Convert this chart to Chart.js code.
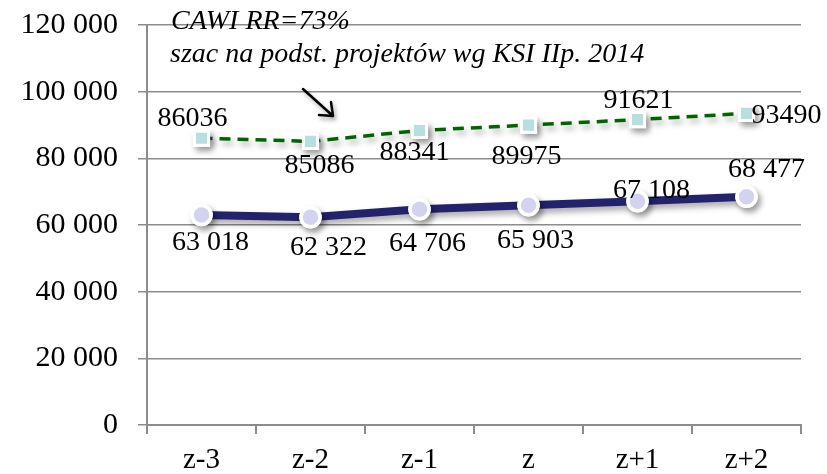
<!DOCTYPE html>
<html>
<head>
<meta charset="utf-8">
<script src="https://cdn.jsdelivr.net/npm/chart.js@4/dist/chart.umd.min.js"></script>
<style>
  html, body { margin: 0; padding: 0; background: #fff; }
  #wrap { width: 827px; height: 474px; }
</style>
</head>
<body>
<div id="wrap"><canvas id="c" width="827" height="474"></canvas></div>
<script>
// Categories (years relative to z)
const categories = ['z-3', 'z-2', 'z-1', 'z', 'z+1', 'z+2'];
// Estimate based on KSI IIp. 2014 projections
const ksiEstimate = [86036, 85086, 88341, 89975, 91621, 93490];
// CAWI scenario, RR = 73%
const cawiValues = [63018, 62322, 64706, 65903, 67108, 68477];
// Value axis ticks
const yTicks = [0, 20000, 40000, 60000, 80000, 100000, 120000];

const annotationLines = ['CAWI RR=73%', 'szac na podst. projektów wg KSI IIp. 2014'];

const SERIF = '"Liberation Serif", "Times New Roman", serif';

function fmtSpace(v) {
  return String(v).replace(/\B(?=(\d{3})+(?!\d))/g, ' ');
}

// Soft drop shadow under the lines and markers; markers are then
// repainted without shadow so their fill stays clean
const shadowPlugin = {
  id: 'shadow',
  beforeDatasetDraw(chart) {
    const ctx = chart.ctx;
    ctx.save();
    ctx.shadowColor = 'rgba(0,0,0,0.35)';
    ctx.shadowBlur = 6;
    ctx.shadowOffsetX = 3;
    ctx.shadowOffsetY = 4;
  },
  afterDatasetDraw(chart, args) {
    const ctx = chart.ctx;
    ctx.restore();
    const area = chart.chartArea;
    args.meta.data.forEach(p => p.draw(ctx, area));
  }
};

// Value-axis labels, placed well left of the tick marks
const yLabelPlugin = {
  id: 'yLabels',
  afterDraw(chart, args, opts) {
    const scale = chart.scales.y;
    const ctx = chart.ctx;
    ctx.save();
    ctx.font = opts.font;
    ctx.fillStyle = '#000';
    ctx.textAlign = 'right';
    ctx.textBaseline = 'middle';
    scale.ticks.forEach(t => {
      ctx.fillText(fmtSpace(t.value), scale.right - opts.gap, scale.getPixelForValue(t.value));
    });
    ctx.restore();
  }
};

// Value labels beside each point, with per-point nudges
const labelPlugin = {
  id: 'pointLabels',
  afterDatasetsDraw(chart, args, opts) {
    const ctx = chart.ctx;
    ctx.save();
    ctx.font = opts.font;
    ctx.fillStyle = '#000';
    ctx.textAlign = 'center';
    ctx.textBaseline = 'middle';
    chart.data.datasets.forEach((ds, di) => {
      const meta = chart.getDatasetMeta(di);
      const offs = opts.offsets[di];
      meta.data.forEach((pt, i) => {
        const txt = opts.formats[di](ds.data[i]);
        ctx.fillText(txt, pt.x + offs[i][0], pt.y + offs[i][1]);
      });
    });
    ctx.restore();
  }
};

// Italic note and arrow in the upper part of the plot
const notePlugin = {
  id: 'note',
  afterDraw(chart, args, opts) {
    const ctx = chart.ctx;
    ctx.save();
    ctx.font = 'italic 28px ' + SERIF;
    ctx.fillStyle = '#000';
    ctx.textBaseline = 'alphabetic';
    ctx.textAlign = 'left';
    ctx.fillText(annotationLines[0], 171, 29);
    ctx.fillText(annotationLines[1], 170, 62);

    ctx.shadowColor = 'rgba(0,0,0,0.35)';
    ctx.shadowBlur = 4;
    ctx.shadowOffsetX = 2;
    ctx.shadowOffsetY = 3;
    ctx.strokeStyle = '#000';
    ctx.lineWidth = 2.5;
    ctx.lineCap = 'round';
    const x1 = 303, y1 = 89, x2 = 333, y2 = 116;
    ctx.beginPath();
    ctx.moveTo(x1, y1);
    ctx.lineTo(x2, y2);
    ctx.moveTo(x2, y2);
    ctx.lineTo(x2 - 14, y2 - 1);
    ctx.moveTo(x2, y2);
    ctx.lineTo(x2 - 2, y2 - 14);
    ctx.stroke();
    ctx.restore();
  }
};

new Chart(document.getElementById('c'), {
  type: 'line',
  data: {
    labels: categories,
    datasets: [
      {
        label: 'KSI',
        data: ksiEstimate,
        borderColor: '#006400',
        borderWidth: 3.5,
        borderDash: [11, 7],
        pointStyle: 'rect',
        pointRadius: 10,
        pointBackgroundColor: '#b7dfe0',
        pointBorderColor: '#ffffff',
        pointBorderWidth: 3,
        tension: 0,
        fill: false
      },
      {
        label: 'CAWI',
        data: cawiValues,
        borderColor: '#23236d',
        borderWidth: 8,
        pointStyle: 'circle',
        pointRadius: 9.5,
        pointBackgroundColor: '#d3d3ef',
        pointBorderColor: '#ffffff',
        pointBorderWidth: 3.5,
        tension: 0,
        fill: false
      }
    ]
  },
  options: {
    responsive: false,
    animation: false,
    devicePixelRatio: 1,
    layout: { padding: { top: 25, right: 26, left: 0, bottom: 0 } },
    plugins: {
      legend: { display: false },
      tooltip: { enabled: false },
      yLabels: { font: '30px ' + SERIF, gap: 29 },
      pointLabels: {
        font: '28px ' + SERIF,
        formats: [v => String(v), v => fmtSpace(v)],
        offsets: [
          [[-9, -20], [9, 24], [-5, 22], [-2, 32], [1, -19], [40, 2]],
          [[9, 28], [18, 30], [8, 34], [7, 35], [14, -11], [20, -27]]
        ]
      }
    },
    scales: {
      x: {
        offset: true,
        afterFit(scale) { scale.height = 49; },
        grid: {
          offset: true,
          drawOnChartArea: false,
          drawTicks: true,
          tickLength: 9,
          color: '#8c8c8c',
          lineWidth: 2
        },
        border: { display: true, color: '#8c8c8c', width: 2 },
        ticks: {
          color: '#000',
          font: { family: SERIF, size: 29 },
          padding: 9,
          maxRotation: 0
        }
      },
      y: {
        min: 0,
        max: 120000,
        afterFit(scale) { scale.width = 147; },
        afterBuildTicks(scale) { scale.ticks = yTicks.map(v => ({ value: v })); },
        grid: {
          color: '#8c8c8c',
          lineWidth: 1.5,
          tickLength: 9,
          drawTicks: true
        },
        border: { display: true, color: '#8c8c8c', width: 2 },
        ticks: { display: false }
      }
    }
  },
  plugins: [shadowPlugin, labelPlugin, yLabelPlugin, notePlugin]
});
</script>
</body>
</html>
